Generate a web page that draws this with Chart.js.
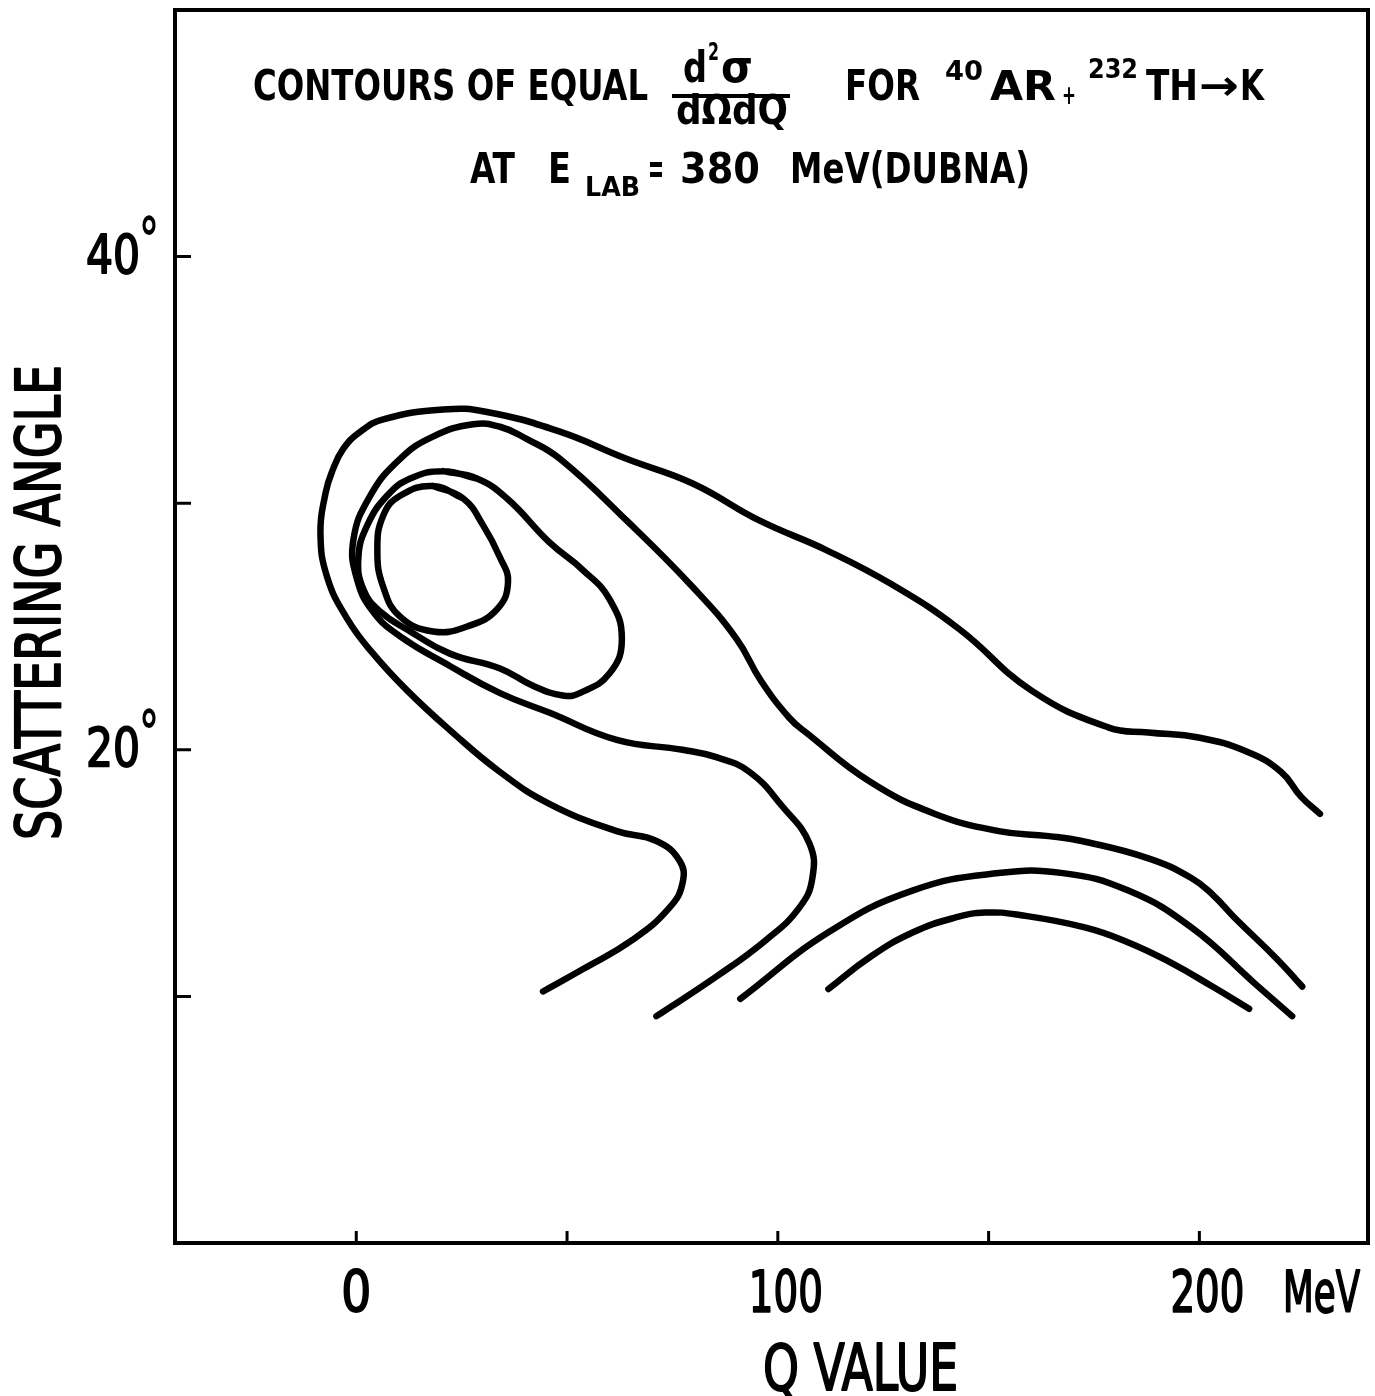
<!DOCTYPE html>
<html>
<head>
<meta charset="utf-8">
<script src="https://cdn.jsdelivr.net/npm/chart.js@4.4.1/dist/chart.umd.min.js"></script>
<style>
  html, body { margin: 0; padding: 0; background: #fff; }
</style>
</head>
<body>
<canvas id="chart" width="1375" height="1396"></canvas>
<script>
// contour lines, as [Q value (MeV), scattering angle (deg)]
const outerContour = [
  [44.3, 10.2], [53.7, 11.1], [65.6, 12.3], [74.3, 13.6], [77.4, 14.6], [76.7, 15.5],
  [71.2, 16.3], [61.8, 16.7], [45.9, 17.8], [34.1, 19.1], [22.2, 20.8], [12.1, 22.4],
  [4.0, 23.9], [-2.1, 25.3], [-6.9, 27.0], [-8.5, 28.8], [-7.3, 30.4], [-5.7, 31.3],
  [-3.1, 32.2], [1.0, 32.9], [6.4, 33.4], [20.6, 33.8], [31.0, 33.7], [48.3, 32.9],
  [64.1, 31.8], [79.8, 30.8], [95.6, 29.3], [111.5, 28.1], [127.1, 26.7], [143.0, 24.9],
  [160.2, 22.4], [178.5, 20.9], [187.9, 20.7], [199.8, 20.5], [211.6, 19.9], [219.4, 19.1],
  [224.1, 18.1], [228.6, 17.4]
];
const secondContour = [
  [71.2, 9.2], [85.4, 10.8], [97.3, 12.3], [105.1, 13.6], [108.2, 14.8], [107.5, 16.2],
  [101.1, 17.7], [93.3, 19.1], [85.4, 19.7], [77.4, 20.0], [61.8, 20.4], [45.9, 21.5],
  [34.1, 22.3], [22.2, 23.4], [10.4, 24.6], [4.0, 25.6], [0.2, 26.9], [-0.7, 28.5],
  [3.3, 30.3], [10.4, 31.8], [18.2, 32.7], [27.7, 33.2], [34.1, 33.1], [40.5, 32.6],
  [48.3, 31.8], [64.1, 29.3], [79.8, 26.6], [90.2, 24.5], [96.0, 22.8], [102.7, 21.3],
  [106.7, 20.7], [121.9, 18.7], [137.3, 17.4], [152.4, 16.7], [164.3, 16.5], [172.1, 16.3],
  [187.9, 15.6], [198.1, 14.8], [203.3, 14.1], [208.3, 13.2], [218.5, 11.5], [224.4, 10.4]
];
const upperArch = [
  [91.1, 9.9], [112.0, 12.6], [132.1, 14.3], [152.4, 15.0], [167.6, 15.0],
  [183.0, 14.3], [198.1, 12.8], [213.3, 10.5], [222.0, 9.2]
];
const lowerArch = [
  [112.0, 10.3], [121.9, 11.6], [132.1, 12.6], [142.2, 13.2], [149.3, 13.4], [157.4, 13.3],
  [172.8, 12.8], [183.0, 12.2], [192.9, 11.4], [203.1, 10.4], [211.8, 9.5]
];
// closed loops around the maximum
const middleLoop = [
  [20.6, 31.3], [28.6, 31.0], [35.7, 30.2], [45.9, 28.4], [53.7, 27.3], [60.1, 26.1],
  [63.0, 24.5], [60.1, 23.1], [53.0, 22.3], [49.0, 22.2], [41.9, 22.6], [34.1, 23.3],
  [22.2, 23.9], [12.8, 24.8], [5.7, 25.6], [1.7, 26.5], [0.5, 27.8], [2.6, 29.1],
  [7.3, 30.3], [12.8, 31.0]
];
const innerLoop = [
  [18.2, 30.7], [25.3, 30.2], [30.1, 29.1], [34.1, 27.8], [36.0, 26.8], [33.4, 25.7],
  [26.3, 25.0], [18.2, 24.8], [10.4, 25.4], [6.4, 26.6], [5.0, 28.1], [6.4, 29.5],
  [10.4, 30.3]
];

const xTicks = [0, 50, 100, 150, 200];
const xTickLabels = { 0: '0', 100: '100', 200: '200' };
const yTicks = [10, 20, 30, 40];
const yTickLabels = { 20: '20', 40: '40' };

const FONT = "'DejaVu Sans Condensed', 'DejaVu Sans', sans-serif";

function contour (pts, closed) {
  const data = pts.map(([x, y]) => ({ x, y }));
  if (closed) data.push(data[0], data[1]);
  return {
    data,
    showLine: true,
    tension: 0.45,
    borderColor: '#000',
    borderWidth: 6.5,
    borderCapStyle: 'round',
    borderJoinStyle: 'round',
    pointRadius: 0,
    fill: false
  };
}

// text squeezed/stretched to the width it has on the original drawing
function txt (ctx, s, left, base, size, width, weight, stroke) {
  ctx.font = `${weight || 'bold'} ${size}px ${FONT}`;
  const w = ctx.measureText(s).width;
  ctx.save();
  ctx.translate(left, base);
  if (width) ctx.scale(width / w, 1);
  ctx.fillText(s, 0, 0);
  if (stroke) {
    ctx.lineWidth = stroke;
    ctx.lineJoin = 'round';
    ctx.strokeText(s, 0, 0);
  }
  ctx.restore();
}

const paper = {
  id: 'paper',
  afterDraw (chart) {
    const { ctx, chartArea: a, scales } = chart;
    ctx.save();
    ctx.strokeStyle = '#000';
    ctx.fillStyle = '#000';
    ctx.lineWidth = 4;
    ctx.strokeRect(a.left, a.top, a.right - a.left, a.bottom - a.top);
    // inward tick marks
    ctx.lineWidth = 3;
    ctx.beginPath();
    xTicks.forEach(v => {
      const px = scales.x.getPixelForValue(v);
      ctx.moveTo(px, a.bottom);
      ctx.lineTo(px, a.bottom - 12);
    });
    yTicks.forEach(v => {
      const py = scales.y.getPixelForValue(v);
      ctx.moveTo(a.left, py);
      ctx.lineTo(a.left + 16, py);
    });
    ctx.stroke();

    ctx.textAlign = 'left';
    ctx.textBaseline = 'alphabetic';
    // tick labels
    xTicks.forEach(v => {
      const s = xTickLabels[v];
      if (!s) return;
      const w = s.length === 1 ? 30 : 74;
      const cx = scales.x.getPixelForValue(v) + (v > 0 ? 8 : 0);
      txt(ctx, s, cx - w / 2, a.bottom + 69, 57, w, 'normal', 1.8);
    });
    yTicks.forEach(v => {
      const s = yTickLabels[v];
      if (!s) return;
      const py = scales.y.getPixelForValue(v);
      txt(ctx, s, 86, py + 16, 53, 54, 'normal', 1.8);
      txt(ctx, '°', 139, py + 4, 60, 20, 'bold');
    });
    // heading, line 1
    txt(ctx, 'CONTOURS OF EQUAL', 253, 100, 42, 395);
    txt(ctx, 'd', 683, 82, 42, 24);
    txt(ctx, '2', 708, 60, 24, 11);
    txt(ctx, 'σ', 721, 82, 44, 32);
    ctx.fillRect(672, 94, 118, 4);
    txt(ctx, 'dΩdQ', 676, 124, 40, 112);
    txt(ctx, 'FOR', 845, 100, 42, 75);
    txt(ctx, '40', 945, 80, 26, 38);
    txt(ctx, 'AR', 990, 100, 40, 66);
    txt(ctx, '+', 1062, 104, 26, 14);
    txt(ctx, '232', 1088, 78, 26, 50);
    txt(ctx, 'TH', 1146, 100, 42, 52);
    txt(ctx, '→', 1199, 100, 42, 40);
    txt(ctx, 'K', 1240, 100, 42, 24);
    // heading, line 2
    txt(ctx, 'AT', 470, 183, 43, 45);
    txt(ctx, 'E', 548, 183, 43, 23);
    txt(ctx, 'LAB', 585, 196, 26, 55);
    txt(ctx, '=', 648, 183, 42, 16);
    txt(ctx, '380', 680, 183, 43, 80);
    txt(ctx, 'MeV(DUBNA)', 790, 183, 43, 240);
    // axis titles and unit
    txt(ctx, 'MeV', 1283, 1312, 57, 77, 'normal', 1.8);
    txt(ctx, 'Q VALUE', 763, 1390, 64, 195, 'normal', 1.8);
    ctx.save();
    ctx.translate(60, 840);
    ctx.rotate(-Math.PI / 2);
    txt(ctx, 'SCATTERING ANGLE', 0, 0, 62, 475, 'normal', 1.8);
    ctx.restore();
    ctx.restore();
  }
};

new Chart(document.getElementById('chart'), {
  type: 'scatter',
  data: {
    datasets: [
      contour(outerContour),
      contour(secondContour),
      contour(upperArch),
      contour(lowerArch),
      contour(middleLoop, true),
      contour(innerLoop, true)
    ]
  },
  options: {
    responsive: false,
    animation: false,
    devicePixelRatio: 1,
    layout: { padding: { top: 10, right: 7, left: 0, bottom: 0 } },
    plugins: { legend: { display: false }, tooltip: { enabled: false } },
    scales: {
      x: {
        type: 'linear',
        min: -43,
        max: 240,
        afterBuildTicks: s => { s.ticks = xTicks.map(v => ({ value: v })); },
        afterFit: s => { s.height = 153; s.paddingLeft = 0; s.paddingRight = 0; },
        grid: { display: false },
        border: { display: false },
        ticks: { display: false }
      },
      y: {
        type: 'linear',
        min: 0,
        max: 50,
        afterBuildTicks: s => { s.ticks = yTicks.map(v => ({ value: v })); },
        afterFit: s => { s.width = 175; s.paddingTop = 0; s.paddingBottom = 0; },
        grid: { display: false },
        border: { display: false },
        ticks: { display: false }
      }
    }
  },
  plugins: [paper]
});
</script>
</body>
</html>
